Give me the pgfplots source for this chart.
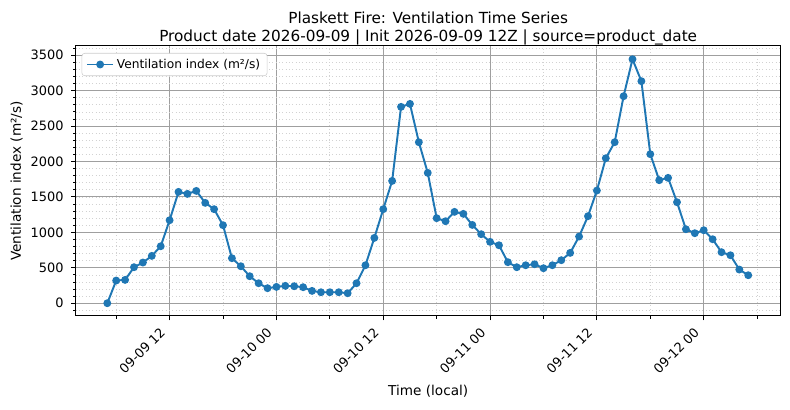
\documentclass[border=0pt]{standalone}
\usepackage{fontspec}
\setmainfont{DejaVu Sans}
\usepackage{pgfplots}
\usepackage{pgfplotstable}
\pgfplotsset{compat=1.18}
\definecolor{mplblue}{HTML}{1F77B4}

\pgfplotstableread{
h v
5 0
6 320
7 329
8 508
9 574
10 668
11 804
12 1171
13 1571
14 1543
15 1585
16 1416
17 1327
18 1101
19 635
20 522
21 381
22 282
23 212
24 230
25 245
26 240
27 226
28 174
29 155
30 155
31 155
32 141
33 282
34 536
35 922
36 1327
37 1726
38 2771
39 2813
40 2272
41 1839
42 1200
43 1157
44 1289
45 1261
46 1105
47 974
48 866
49 818
50 579
51 508
52 536
53 550
54 494
55 536
56 607
57 710
58 941
59 1228
60 1590
61 2046
62 2272
63 2921
64 3443
65 3133
66 2103
67 1736
68 1769
69 1425
70 1044
71 988
72 1030
73 903
74 720
75 677
76 475
77 395
}\ventdata

\begin{document}
\begin{tikzpicture}
\begin{axis}[
  at={(54.5pt,67pt)}, anchor=south west,
  scale only axis, width=507.6pt, height=194.4pt,
  xmin=1.45, xmax=80.65, ymin=-180, ymax=3630,
  axis line style={line width=0.75pt},
  xtick={12,24,36,48,60,72},
  xticklabels={09-09 12,09-10 00,09-10 12,09-11 00,09-11 12,09-12 00},
  minor xtick={6,18,30,42,54,66,78},
  ytick={0,500,...,3500},
  minor ytick={-100,0,...,3600},
  xtick pos=left, ytick pos=left,
  tick align=outside,
  major tick length=3.2pt, minor tick length=1.85pt,
  every tick/.style={black, line width=0.6pt},
  grid=both,
  major grid style={gray!75, line width=0.6pt},
  minor grid style={gray!35, dotted, line width=0.5pt},
  /pgf/number format/assume math mode=true,
  /pgf/number format/set thousands separator={},
  yticklabel style={font=\fontsize{9.3}{11}\selectfont, xshift=-2pt},
  xticklabel style={xshift=-7.5pt, yshift=0.5pt, rotate=45, anchor=north east, font=\fontsize{9.3}{11}\selectfont},
  xlabel={Time (local)},
  ylabel={Ventilation index (m²/s)},
  label style={font=\fontsize{9.8}{11}\selectfont},
  xlabel style={at={(axis description cs:0.5,-0.280)}, anchor=center},
  ylabel style={at={(axis description cs:-0.0837,0.5)}, anchor=center},
  every axis title shift=0pt,
  title={Plaskett Fire: Ventilation Time Series\\Product date 2026-09-09 | Init 2026-09-09 12Z | source=product\_date},
  title style={align=center, font=\fontsize{11}{12.9}\selectfont, at={(axis description cs:0.5,1.066)}, anchor=center},
  legend style={at={(axis description cs:0.0085,0.974)}, anchor=north west,
    draw=gray!40, rounded corners=2pt, fill=white, font=\fontsize{8.8}{10}\selectfont,
    inner xsep=3pt, inner ysep=2pt},
  legend cell align=left,
  legend image code/.code={\draw[line width=1.4pt, mark repeat=2,mark phase=2] plot coordinates {(0cm,0cm) (0.33cm,0cm) (0.66cm,0cm)};},
]
\addplot[color=mplblue, line width=1.4pt, mark=*, mark size=2.1pt, mark options={solid, fill=mplblue, draw=mplblue}] table[x=h, y=v] {\ventdata};
\addlegendentry{Ventilation index (m²/s)}
\end{axis}
\pgfresetboundingbox
\useasboundingbox (0,0) rectangle (568.8pt,294.5pt);
\end{tikzpicture}
\end{document}
